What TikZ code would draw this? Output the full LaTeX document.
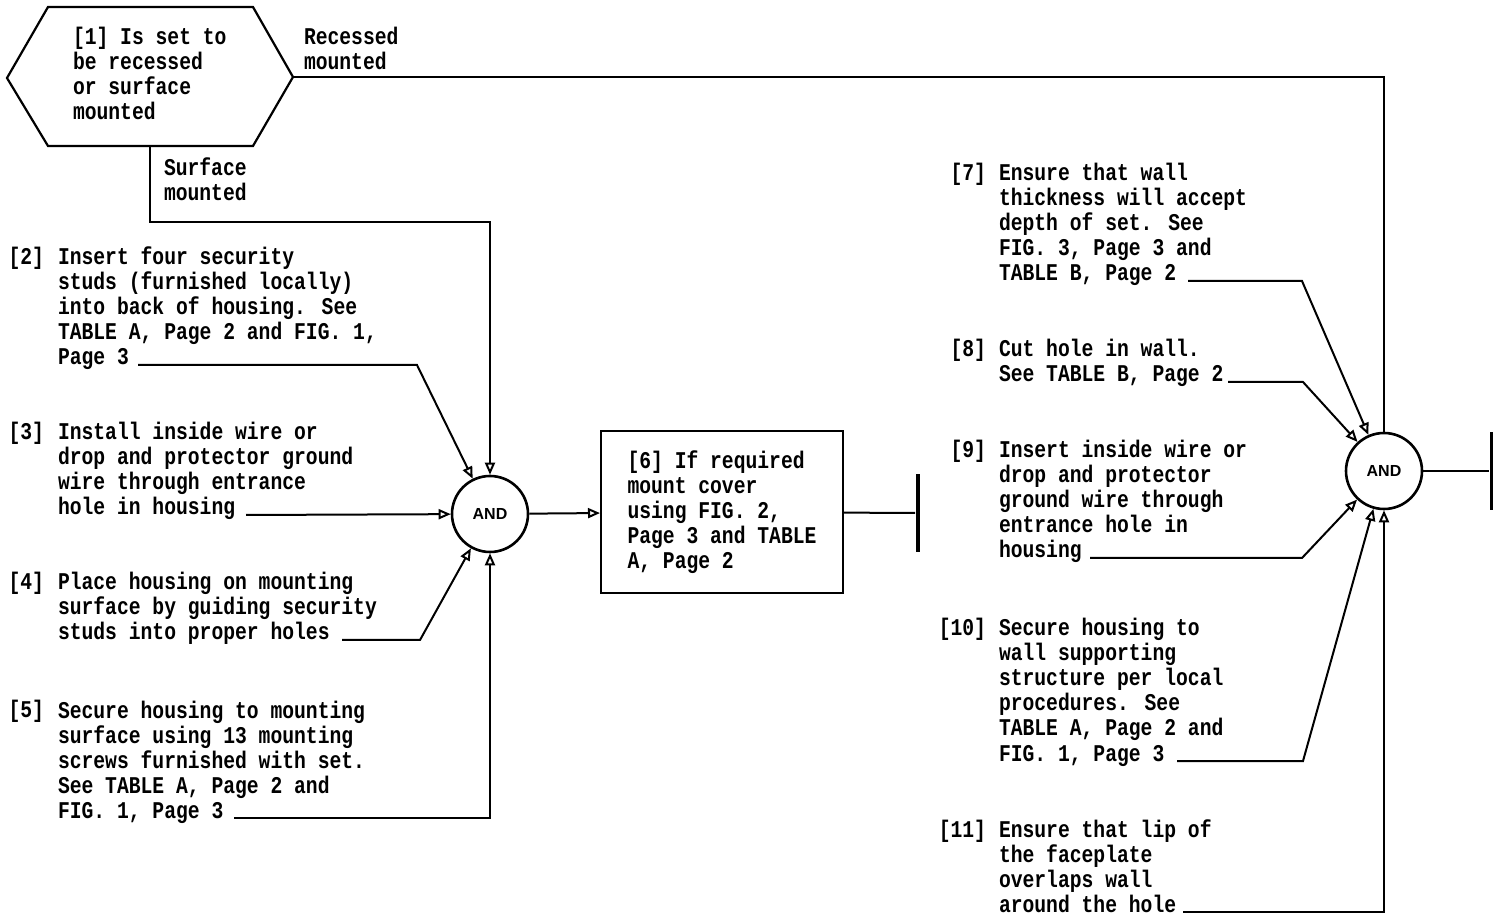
\documentclass[tikz,border=0pt]{standalone}
\usepackage{fontspec}
\setmainfont{Liberation Mono}[FakeStretch=0.82]
\newfontfamily\andfont{Liberation Sans}
\usetikzlibrary{arrows.meta}

\tikzset{
  txt/.style={anchor=base west, inner sep=0pt, align=left,
    font=\fontsize{12pt}{12.5pt}\selectfont\bfseries},
  num/.style={anchor=base east, inner sep=0pt,
    font=\fontsize{12pt}{12.5pt}\selectfont\bfseries},
  andgate/.style={draw, circle, line width=1.3pt, minimum size=38pt, inner sep=0pt,
    font=\andfont\fontsize{8pt}{8pt}\selectfont\bfseries},
  bar/.style={fill=black, inner sep=0pt, minimum width=2pt, minimum height=39pt},
  arr/.style={-{Triangle[open, length=6pt, width=5pt]}},
}

\begin{document}
\begin{tikzpicture}[x=0.5pt, y={(0pt,-0.5pt)}, line width=1pt]
	\useasboundingbox (0,0) rectangle (1493,913);

		% Decision [1] (text nodes sit on their last baseline)
		\draw[line width=1.1pt] (7,78) -- (48,7) -- (253,7) -- (293,77) -- (253,146) -- (48,146) -- cycle;
		\coordinate (hexR) at (293,77);
		\coordinate (hexB) at (150,146);
		\node[txt] (q1) at (72,120) {[1] Is set to\\be recessed\\or surface\\mounted};
		\node[txt] (rec) at (303,70) {Recessed\\mounted};
		\node[txt] (surf) at (163,201) {Surface\\mounted};

		% Steps for surface mounting
		\node[num] (n2) at (45,265) {[2]};
		\node[txt] (t2) at (57,365) {Insert four security\\studs (furnished locally)\\into back of housing. See\\TABLE A, Page 2 and FIG. 1,\\Page 3};
		\node[num] (n3) at (45,440) {[3]};
		\node[txt] (t3) at (57,515) {Install inside wire or\\drop and protector ground\\wire through entrance\\hole in housing};
		\node[num] (n4) at (45,590) {[4]};
		\node[txt] (t4) at (57,640) {Place housing on mounting\\surface by guiding security\\studs into proper holes};
		\node[num] (n5) at (45,718) {[5]};
		\node[txt] (t5) at (57,818) {Secure housing to mounting\\surface using 13 mounting\\screws furnished with set.\\See TABLE A, Page 2 and\\FIG. 1, Page 3};

		% First AND and step [6]
		\node[andgate] (and1) at (490,514) {AND};
		\node[draw, minimum width=121pt, minimum height=81pt, align=left,
			font=\fontsize{12pt}{12.5pt}\selectfont\bfseries] (box6) at (722,512)
			{[6] If required\\mount cover\\using FIG. 2,\\Page 3 and TABLE\\A, Page 2};
		\node[bar] (bar1) at (918,513) {};

		% Steps for recessed mounting
		\node[num] (n7) at (987,181) {[7]};
		\node[txt] (t7) at (998,281) {Ensure that wall\\thickness will accept\\depth of set. See\\FIG. 3, Page 3 and\\TABLE B, Page 2};
		\node[num] (n8) at (987,357) {[8]};
		\node[txt] (t8) at (998,382) {Cut hole in wall.\\See TABLE B, Page 2};
		\node[num] (n9) at (987,458) {[9]};
		\node[txt] (t9) at (998,558) {Insert inside wire or\\drop and protector\\ground wire through\\entrance hole in\\housing};
		\node[num] (n10) at (987,636) {[10]};
		\node[txt] (t10) at (998,761) {Secure housing to\\wall supporting\\structure per local\\procedures. See\\TABLE A, Page 2 and\\FIG. 1, Page 3};
		\node[num] (n11) at (987,837) {[11]};
		\node[txt] (t11) at (998,912) {Ensure that lip of\\the faceplate\\overlaps wall\\around the hole};

		% Second AND
		\node[andgate] (and2) at (1384,471) {AND};
		\node[bar] (bar2) at (1492,471) {};

		% Leader lines
		\coordinate (s2) at (138,365);  \coordinate (c2) at (417,365);
		\coordinate (s3) at (246,515);
		\coordinate (s4) at (342,640);  \coordinate (c4) at (420,640);
		\coordinate (s5) at (234,818);  \coordinate (c5) at (490,818);
		\coordinate (sf) at (490,222);
		\coordinate (rc) at (1384,77);
		\coordinate (s7) at (1188,281); \coordinate (c7) at (1302,281);
		\coordinate (s8) at (1228,382); \coordinate (c8) at (1303,382);
		\coordinate (s9) at (1090,558); \coordinate (c9) at (1302,558);
		\coordinate (s10) at (1177,761); \coordinate (c10) at (1303,761);
		\coordinate (s11) at (1183,912); \coordinate (c11) at (1384,912);

		% Connectors into the first AND
		\draw[arr] (hexB) |- (sf) -- (and1);
		\draw[arr] (s2) -- (c2) -- (and1);
		\draw[arr] (s3) -- (and1);
		\draw[arr] (s4) -- (c4) -- (and1);
		\draw[arr] (s5) -- (c5) -- (and1);
		\draw[arr] (and1) -- (box6);
		\draw (box6) -- (bar1);

		% Connectors into the second AND
		\draw (hexR) -- (rc) -- (and2);
		\draw[arr] (s7) -- (c7) -- (and2);
		\draw[arr] (s8) -- (c8) -- (and2);
		\draw[arr] (s9) -- (c9) -- (and2);
		\draw[arr] (s10) -- (c10) -- (and2);
		\draw[arr] (s11) -- (c11) -- (and2);
		\draw (and2) -- (bar2);
	\end{tikzpicture}
\end{document}
